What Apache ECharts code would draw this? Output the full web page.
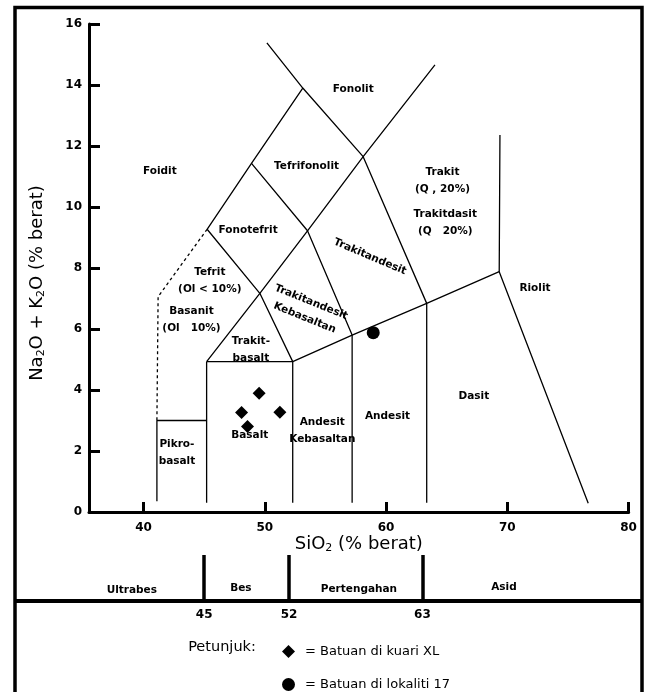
<!DOCTYPE html>
<html><head><meta charset="utf-8">
<script src="https://cdn.jsdelivr.net/npm/echarts@6/dist/echarts.min.js"></script>
<style>html,body{margin:0;padding:0;background:#fff}#c{width:647px;height:692px}</style>
</head><body><div id="c"></div>
<script>
const FONT = 'DejaVu Sans';

// axis ticks
const xTickValues = [40, 50, 60, 70, 80];
const divisionValues = [45, 52, 63];

// TAS field boundaries (SiO2, Na2O+K2O)
const lineFoiditUpper = [[50.17, 15.38], [53.13, 13.90], [58.11, 11.65], [63.35, 6.84]];
const lineTrachyteLeft = [[64.03, 14.66], [58.11, 11.65], [53.52, 9.22], [49.59, 7.17], [45.2, 4.93]];
const lineFoiditPhonotephrite = [[53.13, 13.90], [48.90, 11.43], [45.24, 9.27]];
const lineTephriphonoliteBase = [[48.90, 11.43], [53.52, 9.22], [57.2, 5.8]];
const lineTephriteTrachybasalt = [[45.24, 9.27], [49.59, 7.17], [52.3, 4.93]];
const lineSubalkaline = [[45.2, 4.93], [52.3, 4.93], [57.2, 5.8], [63.35, 6.84], [69.33, 7.88]];
const lineBasaltLeft = [[45.2, 0.3], [45.2, 4.93]];
const lineBasaltRight = [[52.3, 0.3], [52.3, 4.93]];
const lineBasAndesiteRight = [[57.2, 0.3], [57.2, 5.8]];
const lineAndesiteRight = [[63.35, 0.3], [63.35, 6.84]];
const lineRhyolite = [[69.39, 12.36], [69.33, 7.88], [76.67, 0.29]];
const linePicrobasalt = [[41.1, 0.35], [41.1, 3.0], [45.2, 3.0]];
const lineDashed = [[45.24, 9.27], [41.2, 7.06], [41.1, 3.0]];

const solidLines = [lineFoiditUpper, lineTrachyteLeft, lineFoiditPhonotephrite, lineTephriphonoliteBase,
  lineTephriteTrachybasalt, lineSubalkaline, lineBasaltLeft, lineBasaltRight, lineBasAndesiteRight,
  lineAndesiteRight, lineRhyolite, linePicrobasalt];

// samples
const samplesKuariXL = [[49.53, 3.89], [48.08, 3.26], [51.24, 3.27], [48.57, 2.80]];
const samplesLokaliti17 = [[58.94, 5.88]];
const nameKuariXL = '= Batuan di kuari XL';
const nameLokaliti17 = '= Batuan di lokaliti 17';

// field names: [text, SiO2, alkali, rotation]
const regionLabels = [
  ['Foidit', 41.34, 11.16, 0],
  ['Tefrifonolit', 53.44, 11.34, 0],
  ['Fonolit', 57.29, 13.86, 0],
  ['Fonotefrit', 48.62, 9.25, 0],
  ['Trakit\n(Q , 20%)', 64.65, 10.85, 0],
  ['Trakitdasit\n(Q   20%)', 64.88, 9.47, 0],
  ['Trakitandesit', 58.66, 8.37, -23],
  ['Trakitandesit\nKebasaltan', 53.55, 6.62, -22],
  ['Tefrit\n(Ol < 10%)', 45.46, 7.59, 0],
  ['Basanit\n(Ol   10%)', 43.95, 6.31, 0],
  ['Trakit-\nbasalt', 48.85, 5.31, 0],
  ['Pikro-\nbasalt', 42.75, 1.93, 0],
  ['Basalt', 48.76, 2.52, 0],
  ['Andesit\nKebasaltan', 54.74, 2.65, 0],
  ['Andesit', 60.12, 3.13, 0],
  ['Dasit', 67.24, 3.78, 0],
  ['Riolit', 72.28, 7.33, 0]
];

// rock class strip
const sectionNames = ['Ultrabes', 'Bes', 'Pertengahan', 'Asid'];
const sectionX = [39.03, 48.03, 57.76, 69.72];
const sectionY = [0.23, 0.28, 0.25, 0.3];

const chart = echarts.init(document.getElementById('c'), null, {renderer: 'canvas'});

const series = [];
solidLines.forEach(function (pts) {
  series.push({type: 'line', xAxisIndex: 0, yAxisIndex: 0, data: pts, symbol: 'none', silent: true,
    lineStyle: {color: '#000', width: 1.3, opacity: 1}, animation: false});
});
series.push({type: 'line', xAxisIndex: 0, yAxisIndex: 0, data: lineDashed, symbol: 'none', silent: true,
  lineStyle: {color: '#000', width: 1.3, type: [3, 3], opacity: 1}, animation: false});

series.push({type: 'scatter', xAxisIndex: 0, yAxisIndex: 0, symbolSize: 0, silent: true, animation: false,
  itemStyle: {opacity: 1},
  data: regionLabels.map(function (r) {
    return {value: [r[1], r[2]], name: r[0], label: {rotate: r[3]}};
  }),
  label: {show: true, position: 'inside', formatter: '{b}', color: '#000', opacity: 1, fontFamily: FONT,
    fontSize: 10.5, fontWeight: 'bold', lineHeight: 17}
});

series.push({name: nameKuariXL, type: 'scatter', xAxisIndex: 0, yAxisIndex: 0, symbol: 'diamond',
  symbolSize: 13, itemStyle: {color: '#000', opacity: 1}, data: samplesKuariXL, animation: false});
series.push({name: nameLokaliti17, type: 'scatter', xAxisIndex: 0, yAxisIndex: 0, symbol: 'circle',
  symbolSize: 13, itemStyle: {color: '#000', opacity: 1}, data: samplesLokaliti17, animation: false});

// strip: division bars and names
series.push({type: 'scatter', xAxisIndex: 1, yAxisIndex: 1, symbolSize: 0, silent: true, animation: false,
  itemStyle: {opacity: 1},
  data: sectionNames.map(function (n, i) { return {value: [sectionX[i], sectionY[i]], name: n}; }),
  label: {show: true, position: 'inside', formatter: '{b}', color: '#000', opacity: 1, fontFamily: FONT,
    fontSize: 10.5, fontWeight: 'bold'},
  markLine: {silent: true, symbol: 'none', label: {show: false}, animation: false,
    lineStyle: {color: '#000', width: 3.5, type: 'solid', opacity: 1},
    data: divisionValues.map(function (v) { return {xAxis: v}; })}
});

const axisLabelStyle = {color: '#000', fontFamily: FONT, fontSize: 12, fontWeight: 'bold'};
const legendText = {color: '#000', fontFamily: FONT, fontSize: 13, padding: [0, 0, 0, 5]};

chart.setOption({
  animation: false,
  backgroundColor: '#fff',
  textStyle: {fontFamily: FONT},
  grid: [
    {left: 89, right: 18.4, top: 24, bottom: 180, containLabel: false, outerBoundsMode: 'none'},
    {left: 89, right: 18.4, top: 555, height: 46, containLabel: false, outerBoundsMode: 'none'}
  ],
  xAxis: [
    {type: 'value', gridIndex: 0, min: 35.5, max: 80,
      name: 'SiO{s|2} (% berat)', nameLocation: 'middle', nameGap: 22, nameMoveOverlap: false,
      nameTextStyle: {color: '#000', fontFamily: FONT, fontSize: 18, lineHeight: 20,
        rich: {s: {fontSize: 11, verticalAlign: 'bottom', fontFamily: FONT, color: '#000'}}},
      axisLine: {show: true, onZero: false, lineStyle: {color: '#000', width: 3}},
      axisTick: {show: true, inside: true, length: 10, customValues: xTickValues, lineStyle: {color: '#000', width: 3}},
      axisLabel: Object.assign({customValues: xTickValues, margin: 10}, axisLabelStyle),
      splitLine: {show: false}},
    {type: 'value', gridIndex: 1, min: 35.5, max: 80,
      axisLine: {show: false}, axisTick: {show: false},
      axisLabel: Object.assign({customValues: divisionValues, margin: 8}, axisLabelStyle),
      splitLine: {show: false}}
  ],
  yAxis: [
    {type: 'value', gridIndex: 0, min: 0, max: 16, interval: 2,
      name: 'Na{s|2}O + K{s|2}O (% berat)', nameLocation: 'middle', nameGap: 42, nameMoveOverlap: false,
      nameTextStyle: {color: '#000', fontFamily: FONT, fontSize: 18, lineHeight: 20, padding: [0, 30, 0, 0],
        rich: {s: {fontSize: 11, verticalAlign: 'bottom', fontFamily: FONT, color: '#000'}}},
      axisLine: {show: true, onZero: false, lineStyle: {color: '#000', width: 3}},
      axisTick: {show: true, inside: true, length: 11, lineStyle: {color: '#000', width: 3}},
      axisLabel: Object.assign({margin: 7}, axisLabelStyle),
      splitLine: {show: false}},
    {type: 'value', gridIndex: 1, min: 0, max: 1, show: false}
  ],
  legend: [
    {data: [nameKuariXL], left: 277, top: 640, itemWidth: 13, itemHeight: 13, selectedMode: false,
      textStyle: legendText},
    {data: [nameLokaliti17], left: 277, top: 673, itemWidth: 13, itemHeight: 13, selectedMode: false,
      textStyle: legendText}
  ],
  graphic: [
    {type: 'rect', silent: true, shape: {x: 15, y: 7.5, width: 627, height: 700},
      style: {fill: 'none', stroke: '#000', lineWidth: 3.5}},
    {type: 'line', silent: true, shape: {x1: 15, y1: 601, x2: 642, y2: 601},
      style: {stroke: '#000', lineWidth: 4}},
    {type: 'text', silent: true, x: 222, y: 647,
      style: {text: 'Petunjuk:', fill: '#000', font: '14.5px "DejaVu Sans"', align: 'center', verticalAlign: 'middle'}}
  ],
  series: series
});
</script></body></html>
